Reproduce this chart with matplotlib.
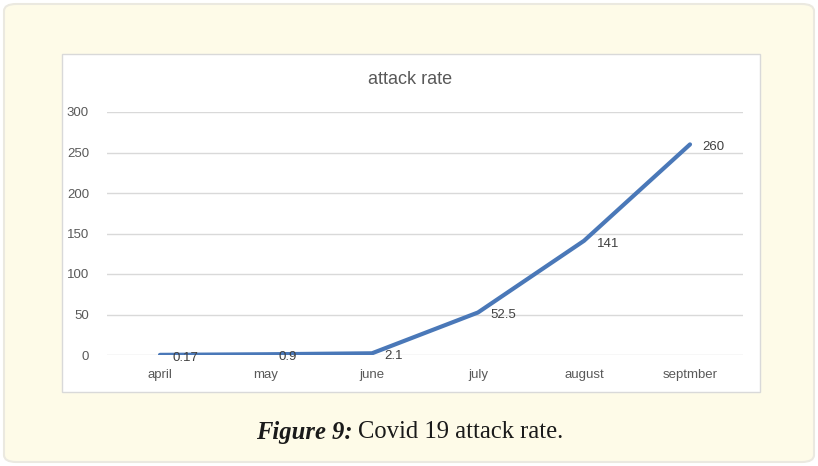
import matplotlib.pyplot as plt
from matplotlib.patches import FancyBboxPatch, Rectangle

months = ['april', 'may', 'june', 'july', 'august', 'septmber']
attack_rate = [0.17, 0.9, 2.1, 52.5, 141, 260]
rate_labels = ['0.17', '0.9', '2.1', '52.5', '141', '260']
y_ticks = [0, 50, 100, 150, 200, 250, 300]

W, H = 818, 466
LINE_BLUE = '#4a78b8'
CHART_FONT = ['Liberation Sans Narrow', 'Liberation Sans', 'DejaVu Sans']

fig = plt.figure(figsize=(W / 100, H / 100), dpi=100)
fig.patch.set_facecolor('white')


def fx(px):
    return px / W


def fy(py):
    return 1 - py / H


# cream panel with rounded corners
panel = FancyBboxPatch((fx(4), fy(462)), fx(810), 458 / H,
                       boxstyle='round,pad=0,rounding_size=0.015',
                       transform=fig.transFigure, facecolor='#fefbe8',
                       edgecolor='#ebe9e0', linewidth=1.5, zorder=-2)
fig.patches.append(panel)

# white chart area
chart_box = Rectangle((fx(62), fy(392)), fx(698), 338 / H,
                      transform=fig.transFigure, facecolor='white',
                      edgecolor='#d9d9d9', linewidth=1, zorder=-1)
fig.patches.append(chart_box)

ax = fig.add_axes([fx(107), fy(355), fx(636), 243 / H])
ax.set_facecolor('none')

x = list(range(len(months)))
ax.plot(x, attack_rate, color=LINE_BLUE, linewidth=3, solid_capstyle='round',
        zorder=3)
for xi, yi, lab in zip(x, attack_rate, rate_labels):
    ax.annotate(lab, (xi, yi), xytext=(9, -2), textcoords='offset points',
                ha='left', va='center', fontsize=9.5, color='#404040',
                family=CHART_FONT, zorder=4)

ax.set_xlim(-0.5, len(months) - 0.5)
ax.set_ylim(0, 300)
ax.set_yticks(y_ticks)
ax.set_xticks(x)
ax.set_xticklabels(months, family=CHART_FONT, fontsize=9.5, color='#595959')
for lab in ax.get_yticklabels():
    lab.set_family(CHART_FONT)
    lab.set_fontsize(9.5)
    lab.set_color('#595959')
ax.tick_params(axis='y', length=0, pad=13)
ax.tick_params(axis='x', length=0, pad=10)
ax.grid(axis='y', color='#d9d9d9', linewidth=1)
ax.set_axisbelow(True)
for s in ax.spines.values():
    s.set_visible(False)

fig.text(fx(410), fy(80), 'attack rate', ha='center', va='center',
         fontsize=13, color='#595959', family=CHART_FONT)

fig.text(fx(353), fy(432), 'Figure 9:', ha='right', va='center',
         fontsize=17.7, fontweight='bold', fontstyle='italic',
         family='Liberation Serif', color='#1a1a1a')
fig.text(fx(358), fy(432), 'Covid 19 attack rate.', ha='left', va='center',
         fontsize=17.7, family='Liberation Serif', color='#1a1a1a')

fig.savefig('out.png', dpi=100)
